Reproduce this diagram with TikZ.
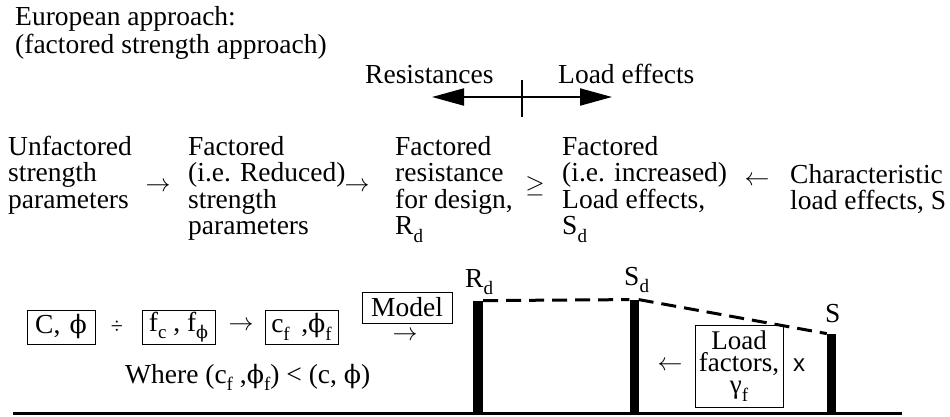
\documentclass[tikz,border=0pt]{standalone}
\usepackage{fontspec}
\setmainfont{Liberation Serif}
\newfontfamily\sansx{Liberation Sans}
\newfontfamily\dvserif{DejaVu Serif}
\usetikzlibrary{arrows.meta}
\newcommand\lowsub[1]{\raisebox{-0.28em}{\fontsize{19}{19}\selectfont #1}}
\newcommand\phsym{{\dvserif\scalebox{0.92}{ϕ}}}
\begin{document}
\begin{tikzpicture}[x=1pt,y=-1pt,
  txt/.style={inner sep=0pt, anchor=base west, align=left, font=\fontsize{27.5}{26.5}\selectfont},
  sym/.style={inner sep=0pt, font=\fontsize{27}{27}\selectfont},
  boxx/.style={draw, line width=1pt, inner sep=0pt, font=\fontsize{27.5}{27}\selectfont, minimum height=34pt},
  bar/.style={fill=black, inner sep=0pt, minimum width=10pt, anchor=south},
  thickarrow/.style={line width=2pt, {Triangle[length=32pt,width=17pt]}-{Triangle[length=32pt,width=17pt]}},
  dashline/.style={line width=3pt, dash pattern=on 15pt off 8pt}]
\useasboundingbox (0,0) rectangle (950,416);

% title
\node[txt, font=\fontsize{27.5}{28}\selectfont] (title) at (15,53) {European approach:\\(factored strength approach)};

% resistances / load effects
\node[txt] (res) at (365,83) {Resistances};
\node[txt] (leff) at (558,83) {Load effects};
\coordinate (la) at (432,97);
\coordinate (ra) at (612,97);
\coordinate (tt) at (522,80);
\coordinate (tb) at (522,117);
\draw[thickarrow] (la) -- (ra);
\draw[line width=1.5pt] (tt) -- (tb);

% flow
\node[txt] (c1) at (8,208) {Unfactored\\strength\\parameters};
\node[txt] (c2) at (188,234.5) {Factored\\(i.e. Reduced)\\strength\\parameters};
\node[txt] (c3) at (395,234.5) {Factored\\resistance\\for design,\\R\lowsub{d}};
\node[txt] (c4) at (562,234.5) {Factored\\(i.e. increased)\\Load effects,\\S\lowsub{d}};
\node[txt] (c5) at (790,209.5) {Characteristic\\load effects, S};
\node[sym] (a1) at (158,187) {$\rightarrow$};
\node[sym] (a2) at (357,187) {$\rightarrow$};
\node[sym] (ge) at (535,186) {$\geq$};
\node[sym] (a3) at (757,181) {$\leftarrow$};

% bottom left
\node[boxx, minimum width=68pt] (b1) at (61,327) {C,\,\,\phsym};
\node[sym, font=\fontsize{22}{22}\selectfont] (dv) at (117,327) {÷};
\node[boxx, minimum width=73pt] (b2) at (178.5,327) {f\lowsub{c} , f\lowsub{\phsym}};
\node[sym] (a4) at (241,326) {$\rightarrow$};
\node[boxx, minimum width=73pt] (b3) at (301.5,327) {c\lowsub{f}\, ,\phsym\lowsub{f}};
\node[boxx, minimum width=90pt, minimum height=31pt] (model) at (407,307.5) {Model};
\node[sym] (a5) at (405,336) {$\rightarrow$};
\node[txt] (where) at (125,383) {Where (c\lowsub{f} ,\phsym\lowsub{f}) < (c, \phsym)};

% ground and bars
\coordinate (g1) at (13,413);
\coordinate (g2) at (902,413);
\node[bar, minimum height=112pt] (rd) at (478,413) {};
\node[bar, minimum width=9pt, minimum height=113pt] (sd) at (634,413) {};
\node[bar, minimum width=9pt, minimum height=79pt] (s) at (831.5,413) {};
\draw[line width=3pt] (g1) -- (g2);
\draw[dashline] (rd.north east) -- (sd.north west);
\draw[dashline] (sd.north east) -- (s.north west);
\node[txt] (lrd) at (465,287) {R\lowsub{d}};
\node[txt] (lsd) at (624,285) {S\lowsub{d}};
\node[txt] (ls) at (825,322) {S};

% load factors
\node[draw, line width=1pt, inner sep=0pt, minimum width=88pt, minimum height=82pt, align=center,
  font=\fontsize{27}{22}\selectfont] (lf) at (739,366) {Load\\factors,\\γ\lowsub{f}};
\node[sym] (a6) at (670,366) {$\leftarrow$};
\node[sym, font=\fontsize{24}{24}\sansx] (xx) at (799,365) {x};
\end{tikzpicture}
\end{document}
